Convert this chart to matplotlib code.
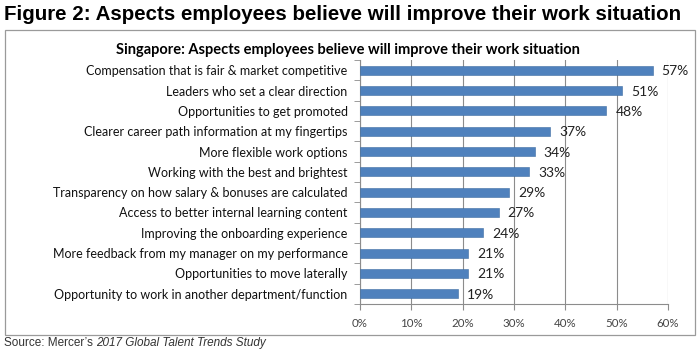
import matplotlib.pyplot as plt
from matplotlib.patches import Rectangle
import numpy as np

# data
aspects = [
    "Compensation that is fair & market competitive",
    "Leaders who set a clear direction",
    "Opportunities to get promoted",
    "Clearer career path information at my fingertips",
    "More flexible work options",
    "Working with the best and brightest",
    "Transparency on how salary & bonuses are calculated",
    "Access to better internal learning content",
    "Improving the onboarding experience",
    "More feedback from my manager on my performance",
    "Opportunities to move laterally",
    "Opportunity to work in another department/function",
]
shares = [0.57, 0.51, 0.48, 0.37, 0.34, 0.33, 0.29, 0.27, 0.24, 0.21, 0.21, 0.19]
xticks = [0, 0.1, 0.2, 0.3, 0.4, 0.5, 0.6]

fig = plt.figure(figsize=(7, 3.51), dpi=100)

# outer chart frame
fig.patches.append(Rectangle((0.007, 0.046), 0.986, 0.869, transform=fig.transFigure,
                             fill=False, edgecolor='#9a9a9a', linewidth=0.9))

ax = fig.add_axes([0.5143, 0.134, 0.44, 0.695])
y = np.arange(len(aspects))
ax.barh(y, shares, height=0.45, color='#4f81bd', edgecolor='#3e6da3', linewidth=0.4, zorder=3)
ax.set_ylim(len(aspects) - 0.5, -0.5)
ax.set_xlim(0, 0.6)

for yi, v in zip(y, shares):
    ax.annotate(f"{round(v * 100)}%", (v, yi), xytext=(9, -1), textcoords='offset pixels',
                va='center', ha='left', fontsize=10, family='Lato', color='#222222')

ax.set_yticks(y)
ax.set_yticklabels(aspects, fontsize=9.0, family='Lato', color='#111111')
ax.tick_params(axis='y', length=0, pad=9)
ax.set_yticks(np.arange(-0.5, len(aspects), 1), minor=True)
ax.tick_params(axis='y', which='minor', length=4, color='#8c8c8c', direction='out')

ax.set_xticks(xticks)
ax.set_xticklabels([f"{int(t * 100)}%" for t in xticks], fontsize=8.3, family='Lato', color='#444444')
ax.tick_params(axis='x', length=4, color='#8c8c8c', pad=6)
ax.grid(axis='x', color='#8c8c8c', linewidth=0.8, zorder=0)

for side in ['top', 'right']:
    ax.spines[side].set_visible(False)
for side in ['left', 'bottom']:
    ax.spines[side].set_color('#8c8c8c')
    ax.spines[side].set_linewidth(0.8)

fig.text(0.006, 0.96, "Figure 2: Aspects employees believe will improve their work situation",
         fontsize=14.8, fontweight='bold', family='Liberation Sans', va='center', ha='left')
fig.text(0.497, 0.858, "Singapore: Aspects employees believe will improve their work situation",
         fontsize=10.5, fontweight='bold', family='Lato', va='center', ha='center')
src = fig.text(0.006, 0.022, "Source: Mercer’s ", fontsize=8.5, family='Liberation Sans',
               color='#333333', va='center', ha='left')
fig.canvas.draw()
bb = src.get_window_extent().transformed(fig.transFigure.inverted())
fig.text(bb.x1, 0.022, "2017 Global Talent Trends Study", fontsize=8.5, family='Liberation Sans',
         style='italic', color='#333333', va='center', ha='left')

plt.savefig('out.png', dpi=100)
